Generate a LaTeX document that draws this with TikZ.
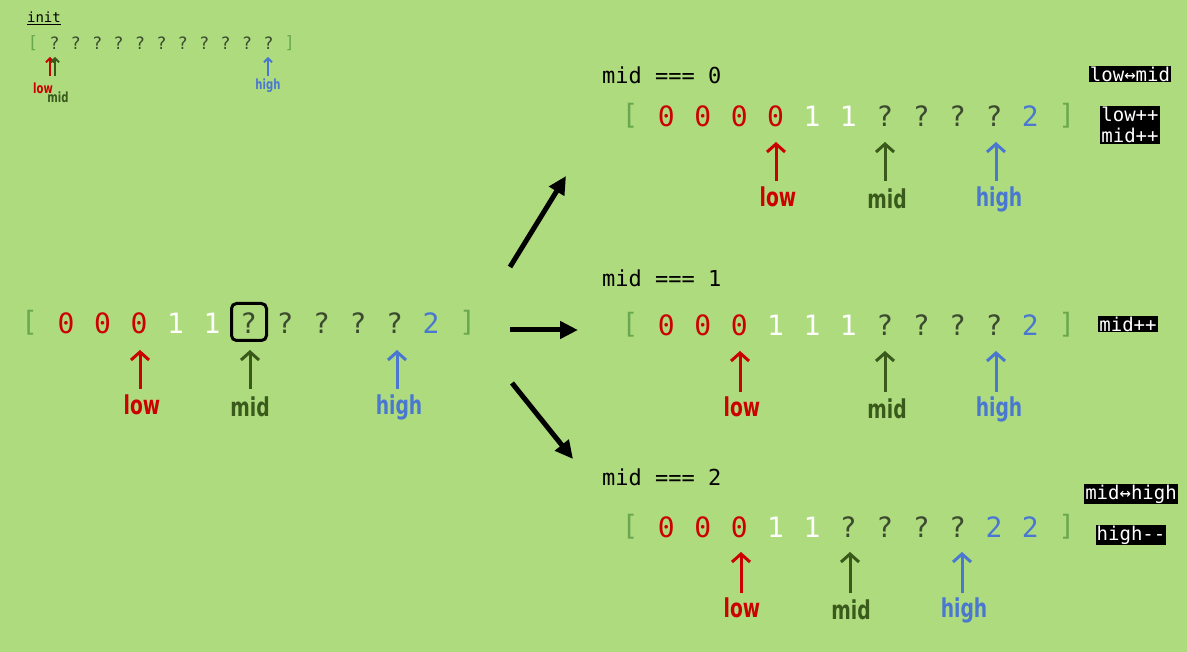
\documentclass[tikz,border=0pt]{standalone}
\usepackage{fontspec}
\setmainfont{DejaVu Sans}
\newfontfamily\monof{DejaVu Sans Mono}
\newfontfamily\lblf[FakeStretch=0.8]{DejaVu Sans Condensed Bold}
\usetikzlibrary{arrows.meta}
\definecolor{bg}{HTML}{AEDB7E}
\definecolor{cred}{HTML}{CC0000}
\definecolor{cmid}{HTML}{3A5A1C}
\definecolor{chigh}{HTML}{4A78D0}
\definecolor{cbrk}{HTML}{6AA84F}
\definecolor{cunk}{HTML}{3C4A30}
\tikzset{
  cellbig/.style={inner sep=0pt, anchor=center, font=\monof\fontsize{28}{28}\selectfont},
  cellsmall/.style={inner sep=0pt, anchor=center, font=\monof\fontsize{17}{17}\selectfont},
  brk/.style={text=cbrk},
  zer/.style={text=cred},
  one/.style={text=white},
  unk/.style={text=cunk},
  two/.style={text=chigh},
  lbl/.style={inner sep=0pt, anchor=center, font=\lblf\fontsize{26}{26}\selectfont},
  lblsmall/.style={inner sep=0pt, anchor=center, font=\lblf\fontsize{14}{14}\selectfont},
  ptr/.style={line width=3pt, -{Straight Barb[length=8pt,width=18pt]}},
  ptrsmall/.style={line width=1.8pt, -{Straight Barb[length=4pt,width=8pt]}},
  big/.style={line width=5pt, -{Triangle[length=18pt,width=17pt]}},
  head/.style={inner sep=0pt, anchor=west, font=\monof\fontsize{22}{22}\selectfont, text=black},
  op/.style={fill=black, text=white, inner sep=1pt, font=\monof\fontsize{19}{21}\selectfont, align=center},
}
\newcommand\cellrow[6]{% name, x0, dx, y, style, list
  \foreach \s/\t [count=\i] in {#6} {
    \node[#5, \s] (#1-\i) at ({#2+#3*(\i-1)}, #4) {\t};
  }
}
\begin{document}
\begin{tikzpicture}[x=1pt, y=-1pt]
\fill[bg] (0,0) rectangle (1187,652);
\useasboundingbox (0,0) rectangle (1187,652);

% init
\node[inner sep=0pt, font=\monof\fontsize{14}{14}\selectfont] (init) at (44,18) {\underline{init}};
\cellrow{I}{33}{21.4}{43}{cellsmall}{brk/\lbrack, unk/?, unk/?, unk/?, unk/?, unk/?, unk/?, unk/?, unk/?, unk/?, unk/?, unk/?, brk/\rbrack}
\node[lblsmall, text=cred] (Ilow) at (43,88) {low};
\node[lblsmall, text=cmid] (Imid) at (58,97) {mid};
\node[lblsmall, text=chigh] (Ihigh) at (268,86) {high};
\coordinate (Ila) at (50,76); \coordinate (Ilb) at (50,57);
\coordinate (Ima) at (55,76); \coordinate (Imb) at (55,57);
\coordinate (Iha) at (268,76); \coordinate (Ihb) at (268,57);
\draw[ptrsmall, cred] (Ila) -- (Ilb);
\draw[ptrsmall, cmid] (Ima) -- (Imb);
\draw[ptrsmall, chigh] (Iha) -- (Ihb);

% main row
\cellrow{M}{29.5}{36.5}{323}{cellbig}{brk/\lbrack, zer/0, zer/0, zer/0, one/1, one/1, unk/?, unk/?, unk/?, unk/?, unk/?, two/2, brk/\rbrack}
\node[draw=black, line width=3pt, rounded corners=5pt, minimum width=35pt, minimum height=37pt, inner sep=0pt] (sel) at (249,322) {};
\node[lbl, text=cred] (Mlow) at (142,405) {low};
\node[lbl, text=cmid] (Mmid) at (250,407) {mid};
\node[lbl, text=chigh] (Mhigh) at (399,407) {high};
\coordinate (Mla) at (140,389); \coordinate (Mlb) at (140,350);
\coordinate (Mma) at (250,389); \coordinate (Mmb) at (250,350);
\coordinate (Mha) at (397,389); \coordinate (Mhb) at (397,350);
\draw[ptr, cred] (Mla) -- (Mlb);
\draw[ptr, cmid] (Mma) -- (Mmb);
\draw[ptr, chigh] (Mha) -- (Mhb);

% big arrows
\coordinate (B1a) at (510,267); \coordinate (B1b) at (566,176);
\coordinate (B2a) at (510,330); \coordinate (B2b) at (578,330);
\coordinate (B3a) at (512,383); \coordinate (B3b) at (573,459);
\draw[big] (B1a) -- (B1b);
\draw[big] (B2a) -- (B2b);
\draw[big] (B3a) -- (B3b);

% case 0
\node[head] (H0) at (602,75) {mid === 0};
\cellrow{A}{630}{36.4}{116}{cellbig}{brk/\lbrack, zer/0, zer/0, zer/0, zer/0, one/1, one/1, unk/?, unk/?, unk/?, unk/?, two/2, brk/\rbrack}
\node[lbl, text=cred] (Alow) at (778,197) {low};
\node[lbl, text=cmid] (Amid) at (887,199) {mid};
\node[lbl, text=chigh] (Ahigh) at (999,199) {high};
\coordinate (Ala) at (776,181); \coordinate (Alb) at (776,142);
\coordinate (Ama) at (885,181); \coordinate (Amb) at (885,142);
\coordinate (Aha) at (996,181); \coordinate (Ahb) at (996,142);
\draw[ptr, cred] (Ala) -- (Alb);
\draw[ptr, cmid] (Ama) -- (Amb);
\draw[ptr, chigh] (Aha) -- (Ahb);
\node[op] (Aop1) at (1130,74) {low↔mid};
\node[op] (Aop2) at (1130,125) {low++\\mid++};

% case 1
\node[head] (H1) at (602,278) {mid === 1};
\cellrow{C}{630}{36.4}{325}{cellbig}{brk/\lbrack, zer/0, zer/0, zer/0, one/1, one/1, one/1, unk/?, unk/?, unk/?, unk/?, two/2, brk/\rbrack}
\node[lbl, text=cred] (Clow) at (742,407) {low};
\node[lbl, text=cmid] (Cmid) at (887,409) {mid};
\node[lbl, text=chigh] (Chigh) at (999,409) {high};
\coordinate (Cla) at (740,392); \coordinate (Clb) at (740,351);
\coordinate (Cma) at (885,392); \coordinate (Cmb) at (885,351);
\coordinate (Cha) at (996,392); \coordinate (Chb) at (996,351);
\draw[ptr, cred] (Cla) -- (Clb);
\draw[ptr, cmid] (Cma) -- (Cmb);
\draw[ptr, chigh] (Cha) -- (Chb);
\node[op] (Cop) at (1128,324) {mid++};

% case 2
\node[head] (H2) at (602,477) {mid === 2};
\cellrow{D}{630}{36.4}{527}{cellbig}{brk/\lbrack, zer/0, zer/0, zer/0, one/1, one/1, unk/?, unk/?, unk/?, unk/?, two/2, two/2, brk/\rbrack}
\node[lbl, text=cred] (Dlow) at (742,608) {low};
\node[lbl, text=cmid] (Dmid) at (851,610) {mid};
\node[lbl, text=chigh] (Dhigh) at (964,610) {high};
\coordinate (Dla) at (741,593); \coordinate (Dlb) at (741,552);
\coordinate (Dma) at (850,593); \coordinate (Dmb) at (850,552);
\coordinate (Dha) at (962,593); \coordinate (Dhb) at (962,552);
\draw[ptr, cred] (Dla) -- (Dlb);
\draw[ptr, cmid] (Dma) -- (Dmb);
\draw[ptr, chigh] (Dha) -- (Dhb);
\node[op] (Dop1) at (1131,494) {mid↔high};
\node[op] (Dop2) at (1131,535) {high--};
\end{tikzpicture}
\end{document}
